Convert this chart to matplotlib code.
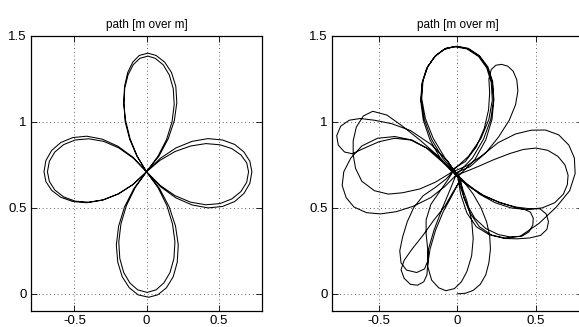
import matplotlib
matplotlib.use("Agg")
import matplotlib.pyplot as plt

plt.rcParams['font.family'] = ['Liberation Sans', 'DejaVu Sans']
plt.rcParams['axes.unicode_minus'] = False

title_text = "path [m over m]"
x_ticks = [-0.5, 0, 0.5]
x_tick_labels = ["-0.5", "0", "0.5"]
y_ticks = [0, 0.5, 1, 1.5]
y_tick_labels = ["0", "0.5", "1", "1.5"]

# ---------------- left panel: two laps of the four-leaf path ----------------
left_lap_outer = [
    (0, 0.71),
    (0.097, 0.623), (0.204, 0.558), (0.316, 0.517), (0.426, 0.500), (0.526, 0.508),
    (0.611, 0.537), (0.675, 0.584), (0.716, 0.643), (0.730, 0.710), (0.716, 0.771),
    (0.675, 0.825), (0.611, 0.869), (0.526, 0.895), (0.426, 0.903), (0.316, 0.887),
    (0.204, 0.849), (0.097, 0.789), (0, 0.71),
    (-0.087, 0.613), (-0.152, 0.506), (-0.193, 0.394), (-0.209, 0.284), (-0.199, 0.184),
    (-0.168, 0.099), (-0.119, 0.035), (-0.058, -0.006), (0.015, -0.020), (0.078, -0.006),
    (0.138, 0.035), (0.185, 0.099), (0.213, 0.184), (0.220, 0.284), (0.201, 0.394),
    (0.157, 0.506), (0.090, 0.613), (0, 0.71),
    (-0.094, 0.795), (-0.199, 0.859), (-0.307, 0.900), (-0.414, 0.917), (-0.511, 0.909),
    (-0.594, 0.880), (-0.657, 0.834), (-0.697, 0.775), (-0.710, 0.710), (-0.697, 0.653),
    (-0.657, 0.602), (-0.594, 0.562), (-0.511, 0.537), (-0.414, 0.530), (-0.307, 0.545),
    (-0.199, 0.580), (-0.094, 0.636), (0, 0.71),
    (0.087, 0.802), (0.151, 0.903), (0.193, 1.009), (0.210, 1.112), (0.203, 1.207),
    (0.173, 1.288), (0.126, 1.348), (0.066, 1.387), (0.010, 1.400), (-0.050, 1.387),
    (-0.095, 1.348), (-0.130, 1.288), (-0.152, 1.207), (-0.158, 1.112), (-0.145, 1.009),
    (-0.114, 0.903), (-0.065, 0.802), (0, 0.71),
]

left_lap_inner = [
    (0, 0.71),
    (0.094, 0.631), (0.198, 0.571), (0.306, 0.533), (0.412, 0.518), (0.509, 0.525),
    (0.591, 0.552), (0.654, 0.595), (0.694, 0.649), (0.707, 0.710), (0.694, 0.762),
    (0.654, 0.808), (0.591, 0.845), (0.509, 0.867), (0.412, 0.874), (0.306, 0.860),
    (0.198, 0.828), (0.094, 0.777), (0, 0.71),
    (-0.079, 0.617), (-0.139, 0.514), (-0.177, 0.407), (-0.192, 0.302), (-0.185, 0.206),
    (-0.158, 0.124), (-0.115, 0.063), (-0.061, 0.023), (0.005, 0.008), (0.066, 0.023),
    (0.120, 0.063), (0.163, 0.124), (0.190, 0.206), (0.197, 0.302), (0.180, 0.407),
    (0.141, 0.514), (0.080, 0.617), (0, 0.71),
    (-0.091, 0.789), (-0.192, 0.849), (-0.297, 0.887), (-0.400, 0.902), (-0.494, 0.895),
    (-0.574, 0.868), (-0.635, 0.825), (-0.673, 0.771), (-0.686, 0.710), (-0.673, 0.654),
    (-0.635, 0.604), (-0.574, 0.564), (-0.494, 0.539), (-0.400, 0.533), (-0.297, 0.547),
    (-0.192, 0.582), (-0.091, 0.637), (0, 0.71),
    (0.079, 0.800), (0.139, 0.898), (0.177, 1.001), (0.192, 1.102), (0.185, 1.195),
    (0.158, 1.273), (0.115, 1.333), (0.061, 1.370), (0.010, 1.383), (-0.046, 1.370),
    (-0.092, 1.333), (-0.128, 1.273), (-0.151, 1.195), (-0.156, 1.102), (-0.148, 1.001),
    (-0.116, 0.898), (-0.066, 0.800), (0, 0.71),
]

# ---------------- right panel: disturbed path ----------------
right_start = [
    (0.00, 0.00), (0.05, 0.003), (0.10, 0.02), (0.145, 0.055), (0.18, 0.11), (0.20, 0.18),
    (0.21, 0.26), (0.205, 0.34), (0.185, 0.42), (0.15, 0.50), (0.10, 0.58), (0.05, 0.64),
    (0.00, 0.69),
]

right_lap1 = [
    (0.06, 0.64), (0.14, 0.58), (0.24, 0.53), (0.34, 0.50), (0.44, 0.49), (0.54, 0.50),
    (0.62, 0.53), (0.675, 0.58), (0.70, 0.635), (0.705, 0.69), (0.685, 0.75), (0.64, 0.80),
    (0.575, 0.835), (0.50, 0.848), (0.42, 0.84), (0.33, 0.815), (0.23, 0.78), (0.13, 0.74),
    (0.05, 0.71), (-0.01, 0.69),
    (-0.05, 0.60), (-0.10, 0.49), (-0.15, 0.37), (-0.185, 0.26), (-0.19, 0.16), (-0.165, 0.08),
    (-0.12, 0.035), (-0.075, 0.018), (-0.02, 0.03), (0.025, 0.07), (0.06, 0.13), (0.09, 0.22),
    (0.10, 0.32), (0.09, 0.43), (0.06, 0.54), (0.025, 0.63), (0.0, 0.69),
    (-0.08, 0.76), (-0.18, 0.84), (-0.29, 0.895), (-0.40, 0.915), (-0.51, 0.905), (-0.61, 0.86),
    (-0.68, 0.79), (-0.725, 0.71), (-0.735, 0.63), (-0.71, 0.56), (-0.66, 0.505), (-0.58, 0.472),
    (-0.49, 0.465), (-0.39, 0.478), (-0.28, 0.51), (-0.17, 0.56), (-0.08, 0.625), (-0.02, 0.68),
    (0.095, 0.79), (0.166, 0.90), (0.212, 1.015), (0.23, 1.127), (0.222, 1.23), (0.19, 1.318),
    (0.138, 1.384), (0.065, 1.426), (-0.01, 1.44), (-0.08, 1.426), (-0.142, 1.384),
    (-0.192, 1.318), (-0.224, 1.23), (-0.232, 1.127), (-0.212, 1.015), (-0.166, 0.90),
    (-0.095, 0.79), (0.0, 0.69),
]

right_lap2 = [
    (0.02, 0.58), (0.06, 0.47), (0.12, 0.39), (0.20, 0.345), (0.30, 0.325), (0.40, 0.335),
    (0.52, 0.41), (0.63, 0.505), (0.715, 0.60), (0.75, 0.70), (0.745, 0.79), (0.71, 0.865),
    (0.645, 0.925), (0.56, 0.953), (0.47, 0.952), (0.37, 0.93), (0.26, 0.88), (0.15, 0.80),
    (0.06, 0.745), (-0.03, 0.71),
    (-0.07, 0.67), (-0.14, 0.62), (-0.22, 0.57), (-0.28, 0.50), (-0.32, 0.42), (-0.35, 0.33),
    (-0.368, 0.25), (-0.36, 0.18), (-0.325, 0.138), (-0.26, 0.124), (-0.21, 0.145),
    (-0.19, 0.19), (-0.19, 0.26), (-0.20, 0.35), (-0.20, 0.43), (-0.17, 0.52), (-0.11, 0.60),
    (-0.06, 0.665), (-0.03, 0.71),
    (-0.06, 0.74), (-0.14, 0.815), (-0.24, 0.895), (-0.35, 0.975), (-0.45, 1.04), (-0.54, 1.062),
    (-0.60, 1.035), (-0.645, 0.97), (-0.665, 0.89), (-0.665, 0.81), (-0.65, 0.73), (-0.61, 0.655),
    (-0.53, 0.60), (-0.44, 0.58), (-0.35, 0.588), (-0.24, 0.61), (-0.14, 0.65), (-0.05, 0.70),
    (0.07, 0.80), (0.15, 0.905), (0.2, 1.015), (0.222, 1.127), (0.215, 1.23), (0.186, 1.315),
    (0.135, 1.38), (0.06, 1.425), (-0.02, 1.438), (-0.09, 1.42), (-0.15, 1.375), (-0.198, 1.31),
    (-0.226, 1.225), (-0.235, 1.125), (-0.218, 1.01), (-0.175, 0.895), (-0.11, 0.79),
    (-0.04, 0.72),
    (0.05, 0.77), (0.12, 0.855), (0.17, 0.96), (0.198, 1.07), (0.205, 1.17), (0.20, 1.25),
    (0.215, 1.305), (0.245, 1.33), (0.28, 1.335), (0.32, 1.325), (0.355, 1.295), (0.378, 1.245),
    (0.385, 1.18), (0.37, 1.10), (0.33, 1.01), (0.26, 0.91), (0.18, 0.82), (0.08, 0.74),
    (-0.02, 0.70),
]

right_lap3 = [
    (0.08, 0.62), (0.17, 0.57), (0.27, 0.53), (0.37, 0.505), (0.46, 0.495), (0.525, 0.495),
    (0.565, 0.465), (0.58, 0.42), (0.57, 0.375), (0.53, 0.34), (0.46, 0.325), (0.38, 0.32),
    (0.30, 0.322), (0.22, 0.34), (0.14, 0.39), (0.08, 0.47), (0.04, 0.56), (0.02, 0.66),
    (0.08, 0.625), (0.16, 0.575), (0.26, 0.535), (0.36, 0.505), (0.43, 0.49), (0.465, 0.475),
    (0.483, 0.44), (0.48, 0.40), (0.455, 0.36), (0.41, 0.335), (0.34, 0.33), (0.26, 0.345),
    (0.18, 0.38), (0.11, 0.44), (0.06, 0.52), (0.03, 0.59), (0.01, 0.65),
    (-0.03, 0.59), (-0.08, 0.51), (-0.15, 0.43), (-0.22, 0.34), (-0.29, 0.26), (-0.34, 0.195),
    (-0.36, 0.14), (-0.34, 0.09), (-0.30, 0.055), (-0.255, 0.05), (-0.215, 0.07), (-0.195, 0.11),
    (-0.19, 0.17), (-0.175, 0.26), (-0.14, 0.37), (-0.09, 0.48), (-0.03, 0.58), (0.015, 0.66),
    (-0.06, 0.77), (-0.17, 0.87), (-0.30, 0.95), (-0.42, 0.99), (-0.53, 1.01), (-0.62, 1.02),
    (-0.69, 1.01), (-0.745, 0.975), (-0.77, 0.92), (-0.76, 0.865), (-0.72, 0.825), (-0.67, 0.815),
    (-0.60, 0.845), (-0.50, 0.885), (-0.40, 0.905), (-0.30, 0.895), (-0.20, 0.85),
    (-0.10, 0.77), (0.0, 0.68),
    (0.11, 0.78), (0.18, 0.895), (0.22, 1.015), (0.232, 1.13), (0.224, 1.235), (0.194, 1.32),
    (0.14, 1.385), (0.07, 1.428), (0.0, 1.44), (-0.07, 1.43), (-0.135, 1.39), (-0.188, 1.325),
    (-0.22, 1.24), (-0.228, 1.135), (-0.205, 1.02), (-0.155, 0.905), (-0.08, 0.79), (0.02, 0.67),
]

left_path = left_lap_outer + left_lap_inner
right_path = right_start + right_lap1 + right_lap2 + right_lap3

W, H = 579, 327
fig = plt.figure(figsize=(W / 100, H / 100), dpi=100)
ax_l = fig.add_axes([31 / W, 16 / H, 231 / W, 275 / H])
ax_r = fig.add_axes([332 / W, 16 / H, 251 / W, 275 / H])

for ax, path in ((ax_l, left_path), (ax_r, right_path)):
    xs = [p[0] for p in path]
    ys = [p[1] for p in path]
    ax.plot(xs, ys, color='black', linewidth=0.75, solid_joinstyle='round')
    ax.set_xlim(-0.8, 0.8)
    ax.set_ylim(-0.1, 1.5)
    ax.set_xticks(x_ticks)
    ax.set_xticklabels(x_tick_labels)
    ax.set_yticks(y_ticks)
    ax.set_yticklabels(y_tick_labels)
    ax.tick_params(direction='in', top=True, right=True, length=4, width=0.6,
                   labelsize=9.5, pad=3)
    ax.grid(True, linestyle=(0, (1, 3.5)), color='0.2', linewidth=0.6)
    for s in ax.spines.values():
        s.set_linewidth(0.9)
        s.set_color('black')
    ax.set_title(title_text, fontsize=8.5, pad=6)

fig.savefig("out.png", dpi=100)
